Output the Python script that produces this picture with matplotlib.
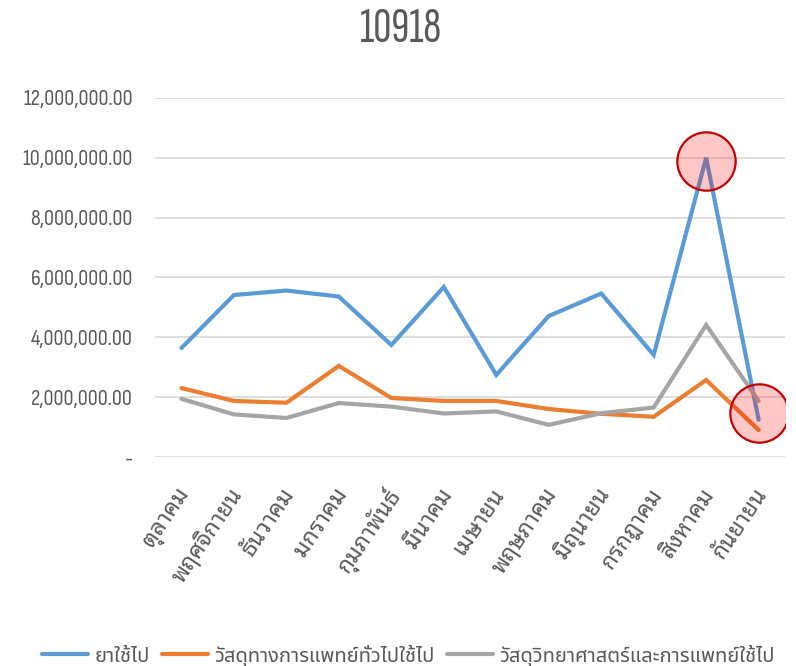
import matplotlib
matplotlib.use('Agg')
import matplotlib.pyplot as plt
import matplotlib.transforms as mtransforms
from matplotlib.ticker import FuncFormatter

# Data
months = ['ตุลาคม', 'พฤศจิกายน', 'ธันวาคม', 'มกราคม', 'กุมภาพันธ์', 'มีนาคม',
          'เมษายน', 'พฤษภาคม', 'มิถุนายน', 'กรกฎาคม', 'สิงหาคม', 'กันยายน']
drugs = [3640000, 5410000, 5560000, 5360000, 3740000, 5680000,
         2740000, 4710000, 5460000, 3410000, 10000000, 1240000]
medical_supplies = [2300000, 1870000, 1810000, 3040000, 1970000, 1870000,
                    1870000, 1600000, 1440000, 1340000, 2570000, 900000]
sci_supplies = [1940000, 1420000, 1300000, 1800000, 1680000, 1450000,
                1520000, 1070000, 1460000, 1650000, 4410000, 1870000]
series_names = ['ยาใช้ไป', 'วัสดุทางการแพทย์ทั่วไปใช้ไป', 'วัสดุวิทยาศาสตร์และการแพทย์ใช้ไป']
y_ticks = [0, 2000000, 4000000, 6000000, 8000000, 10000000, 12000000]
highlight_idx = [10, 11]
highlight_val = [9900000, 1470000]

text_gray = '#595959'
num_font = ['Sofia Sans Condensed', 'Carlito', 'DejaVu Sans']
title_font = ['Sofia Sans Extra Condensed', 'Carlito', 'DejaVu Sans']
thai_font = ['Noto Sans Thai', 'Carlito', 'DejaVu Sans']
looped_font = ['Noto Sans Thai Looped', 'Noto Sans Thai', 'DejaVu Sans']


def fmt(v, pos):
    if v == 0:
        return '-'
    return f'{v:,.2f}'


fig = plt.figure(figsize=(7.96, 6.66), dpi=100)
ax = fig.add_axes([0.195, 0.314, 0.791, 0.539])

x = list(range(len(months)))
colors = ['#5B9BD5', '#ED7D31', '#A5A5A5']
for vals, name, c in zip([drugs, medical_supplies, sci_supplies], series_names, colors):
    ax.plot(x, vals, color=c, lw=3, label=name, solid_capstyle='round',
            solid_joinstyle='miter', zorder=3)

# highlight circles
ax.plot(highlight_idx, highlight_val, ls='none', marker='o', markersize=42,
        markerfacecolor=(1, 0.0, 0.0, 0.22), markeredgecolor='#C00000',
        markeredgewidth=1.6, zorder=5)

ax.set_xlim(-0.5, len(months) - 0.5)
ax.set_ylim(0, 12000000)
ax.set_yticks(y_ticks)
ax.yaxis.set_major_formatter(FuncFormatter(fmt))
ax.grid(axis='y', color='#D9D9D9', lw=1.2)
ax.set_axisbelow(True)
for s in ax.spines.values():
    s.set_visible(False)
ax.tick_params(length=0, colors=text_gray)
ax.tick_params(axis='y', pad=16)
for t in ax.get_yticklabels():
    t.set_family(num_font)
    t.set_fontsize(16)
    t.set_color(text_gray)

ax.set_xticks(x)
ax.set_xticklabels(months, rotation=56, ha='right', va='center', rotation_mode='anchor',
                   family=looped_font, fontsize=16.5, color=text_gray)
ax.tick_params(axis='x', pad=24)
shift = mtransforms.ScaledTranslation(4 / 100, 0, fig.dpi_scale_trans)
for t in ax.get_xticklabels():
    t.set_transform(t.get_transform() + shift)

fig.text(0.503, 0.956, '10918', ha='center', va='center', family=title_font,
         fontsize=36, color=text_gray, weight='medium')

leg = fig.legend(loc='lower center', bbox_to_anchor=(0.513, -0.028), ncol=3, frameon=False,
                 prop={'family': thai_font, 'size': 14.5}, handlelength=2.3,
                 handletextpad=0.3, columnspacing=0.6)
for t in leg.get_texts():
    t.set_color(text_gray)

fig.savefig('out.png', dpi=100)
